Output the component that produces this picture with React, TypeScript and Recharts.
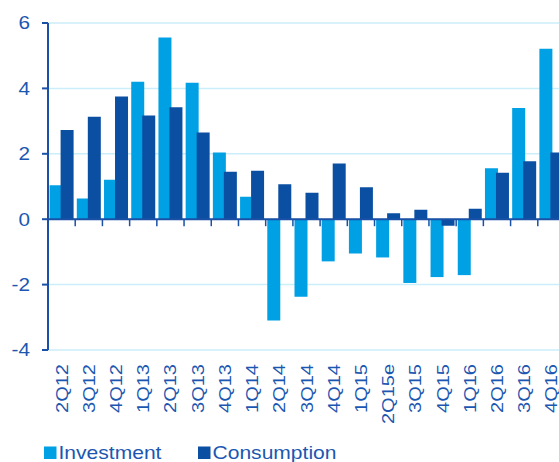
import { BarChart, Bar, XAxis, YAxis, CartesianGrid, ReferenceLine } from 'recharts'

const quarters = [
  '2Q12', '3Q12', '4Q12', '1Q13', '2Q13', '3Q13', '4Q13', '1Q14', '2Q14', '3Q14',
  '4Q14', '1Q15', '2Q15e', '3Q15', '4Q15', '1Q16', '2Q16', '3Q16', '4Q16',
]

const investment = [
  1.04, 0.63, 1.21, 4.2, 5.56, 4.17, 2.04, 0.69, -3.1, -2.37,
  -1.29, -1.05, -1.17, -1.95, -1.77, -1.71, 1.56, 3.4, 5.21,
]

const consumption = [
  2.73, 3.13, 3.75, 3.17, 3.42, 2.65, 1.45, 1.48, 1.07, 0.81,
  1.7, 0.98, 0.18, 0.29, -0.2, 0.32, 1.42, 1.77, 2.04,
]

const yTicks = [-4, -2, 0, 2, 4, 6]

const LIGHT = '#00a0e4'
const DARK = '#0b4fa2'
const AXIS = '#1a50a6'
const TEXT = '#1b57b1'
const GRID = '#ccedfa'

const CHART_W = 565
const CHART_H = 462
const TOP = 23
const Y_AXIS_W = 48
const X_AXIS_H = 112
const PLOT_H = CHART_H - TOP - X_AXIS_H
const PLOT_W = CHART_W - Y_AXIS_W
const Y_MIN = -4
const Y_MAX = 6

const rows = quarters.map((q, i) => ({
  quarter: q,
  investment: investment[i],
  consumption: consumption[i],
}))

const zeroY = TOP + (Y_MAX / (Y_MAX - Y_MIN)) * PLOT_H
const band = PLOT_W / quarters.length

function QuarterTick(props: any) {
  const { x, payload } = props
  const left = x - band / 2
  return (
    <g>
      <line x1={left} x2={left} y1={zeroY} y2={zeroY + 7} stroke={AXIS} strokeWidth={1.5} />
      <text
        transform={`translate(${x},${TOP + PLOT_H + 14}) rotate(-90) scale(1,0.87)`}
        textAnchor="end"
        dominantBaseline="central"
        fontSize={20}
        fill={TEXT}
      >
        {payload.value}
      </text>
    </g>
  )
}

function ValueTick(props: any) {
  const { x, y, payload } = props
  return (
    <text
      transform={`translate(${x},${y}) scale(1.15,1)`}
      textAnchor="end"
      dominantBaseline="central"
      fontSize={18}
      fill={TEXT}
    >
      {payload.value}
    </text>
  )
}

const legendItems = [
  { name: 'Investment', color: LIGHT, x: 44 },
  { name: 'Consumption', color: DARK, x: 198 },
]

export default function App() {
  return (
    <div
      style={{
        position: 'fixed',
        left: 0,
        top: 0,
        width: 559,
        height: 462,
        overflow: 'hidden',
        background: '#fff',
        fontFamily: '"Liberation Sans", Arial, sans-serif',
      }}
    >
      <BarChart
        width={CHART_W}
        height={CHART_H}
        data={rows}
        margin={{ top: TOP, right: 0, bottom: 0, left: 0 }}
        barCategoryGap={1.6}
        barGap={-2}
      >
        <CartesianGrid horizontal vertical={false} stroke={GRID} strokeWidth={1.5} />
        <XAxis
          dataKey="quarter"
          height={X_AXIS_H}
          axisLine={false}
          tickLine={false}
          interval={0}
          tick={<QuarterTick />}
        />
        <YAxis
          width={Y_AXIS_W}
          domain={[Y_MIN, Y_MAX]}
          ticks={yTicks}
          allowDataOverflow
          axisLine={{ stroke: AXIS, strokeWidth: 2 }}
          tickLine={{ stroke: AXIS, strokeWidth: 2 }}
          tickSize={6}
          tickMargin={12}
          tick={<ValueTick />}
        />
        <Bar dataKey="investment" name="Investment" fill={LIGHT} isAnimationActive={false} />
        <Bar dataKey="consumption" name="Consumption" fill={DARK} isAnimationActive={false} />
        <ReferenceLine y={0} stroke={AXIS} strokeWidth={2} />
      </BarChart>
      <svg
        width={559}
        height={462}
        style={{ position: 'absolute', left: 0, top: 0, pointerEvents: 'none' }}
      >
        {legendItems.map((item) => (
          <g key={item.name}>
            <rect x={item.x} y={446.5} width={12.5} height={12.5} fill={item.color} />
            <text
              transform={`translate(${item.x + 14.5},459.3) scale(1.17,1)`}
              fontSize={18}
              fill={TEXT}
            >
              {item.name}
            </text>
          </g>
        ))}
      </svg>
    </div>
  )
}
